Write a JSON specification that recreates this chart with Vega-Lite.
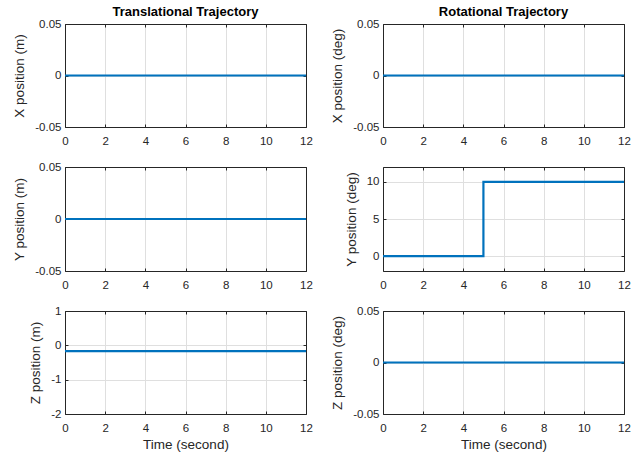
{
  "$schema": "https://vega.github.io/schema/vega-lite/v6.json",
  "background": "white",
  "padding": {"left": 12, "top": 6, "right": 18, "bottom": 5},
  "datasets": {
    "xm": [{"t": 0, "v": 0}, {"t": 12, "v": 0}],
    "xd": [{"t": 0, "v": 0}, {"t": 12, "v": 0}],
    "ym": [{"t": 0, "v": 0}, {"t": 12, "v": 0}],
    "yd": [{"t": 0, "v": 0}, {"t": 5, "v": 0}, {"t": 5, "v": 10}, {"t": 12, "v": 10}],
    "zm": [{"t": 0, "v": -0.17}, {"t": 12, "v": -0.17}],
    "zd": [{"t": 0, "v": 0}, {"t": 12, "v": 0}]
  },
  "config": {
    "font": "Liberation Sans",
    "view": {"stroke": null},
    "axis": {
      "domain": true,
      "domainColor": "#262626",
      "domainWidth": 1,
      "grid": true,
      "gridColor": "#dfdfdf",
      "gridWidth": 1,
      "ticks": false,
      "tickColor": "#262626",
      "tickSize": 3,
      "labelFlush": false,
      "labelFont": "Liberation Sans",
      "labelFontSize": 11.5,
      "labelColor": "#262626",
      "titleFont": "Liberation Sans",
      "titleFontSize": 13.5,
      "titleFontWeight": "normal",
      "titleColor": "#262626",
      "labelExpr": "replace(format(datum.value, '~r'), '−', '-')"
    },
    "axisX": {"labelPadding": 8, "titlePadding": 4},
    "axisY": {"labelPadding": 4, "titlePadding": 8},
    "title": {"fontSize": 13, "fontWeight": "bold", "color": "black", "font": "Liberation Sans", "offset": -1},
    "line": {"color": "#0072BD", "strokeWidth": 2.2}
  },
  "columns": 2,
  "bounds": "flush",
  "spacing": {"column": 77, "row": 40},
  "concat": [
    {
      "title": "Translational Trajectory",
      "width": 241, "height": 103,
      "data": {"name": "xm"},
      "layer": [
        {"mark": {"type": "line", "clip": true},
         "encoding": {
           "x": {"field": "t", "type": "quantitative", "scale": {"domain": [0, 12], "nice": false}, "axis": {"title": null, "values": [0, 2, 4, 6, 8, 10, 12]}},
           "y": {"field": "v", "type": "quantitative", "scale": {"domain": [-0.05, 0.05], "nice": false}, "axis": {"title": "X position (m)", "values": [-0.05, 0, 0.05]}}}},
        {"mark": {"type": "line", "opacity": 0},
         "encoding": {
           "x": {"field": "t", "type": "quantitative", "axis": {"orient": "top", "title": null, "labels": false, "grid": false, "values": [0, 2, 4, 6, 8, 10, 12]}},
           "y": {"field": "v", "type": "quantitative", "axis": {"orient": "right", "title": null, "labels": false, "grid": false, "values": [-0.05, 0, 0.05]}}}},
        {"mark": {"type": "line", "opacity": 0},
         "encoding": {
           "x": {"field": "t", "type": "quantitative", "axis": {"orient": "bottom", "offset": -3, "ticks": true, "domain": false, "title": null, "labels": false, "grid": false, "values": [0, 2, 4, 6, 8, 10, 12]}},
           "y": {"field": "v", "type": "quantitative", "axis": {"orient": "left", "offset": -3, "ticks": true, "domain": false, "title": null, "labels": false, "grid": false, "values": [-0.05, 0, 0.05]}}}},
        {"mark": {"type": "line", "opacity": 0},
         "encoding": {
           "x": {"field": "t", "type": "quantitative", "axis": {"orient": "top", "offset": -3, "ticks": true, "domain": false, "title": null, "labels": false, "grid": false, "values": [0, 2, 4, 6, 8, 10, 12]}},
           "y": {"field": "v", "type": "quantitative", "axis": {"orient": "right", "offset": -3, "ticks": true, "domain": false, "title": null, "labels": false, "grid": false, "values": [-0.05, 0, 0.05]}}}}
      ],
      "resolve": {"axis": {"x": "independent", "y": "independent"}}
    },
    {
      "title": "Rotational Trajectory",
      "width": 241, "height": 103,
      "data": {"name": "xd"},
      "layer": [
        {"mark": {"type": "line", "clip": true},
         "encoding": {
           "x": {"field": "t", "type": "quantitative", "scale": {"domain": [0, 12], "nice": false}, "axis": {"title": null, "values": [0, 2, 4, 6, 8, 10, 12]}},
           "y": {"field": "v", "type": "quantitative", "scale": {"domain": [-0.05, 0.05], "nice": false}, "axis": {"title": "X position (deg)", "values": [-0.05, 0, 0.05]}}}},
        {"mark": {"type": "line", "opacity": 0},
         "encoding": {
           "x": {"field": "t", "type": "quantitative", "axis": {"orient": "top", "title": null, "labels": false, "grid": false, "values": [0, 2, 4, 6, 8, 10, 12]}},
           "y": {"field": "v", "type": "quantitative", "axis": {"orient": "right", "title": null, "labels": false, "grid": false, "values": [-0.05, 0, 0.05]}}}},
        {"mark": {"type": "line", "opacity": 0},
         "encoding": {
           "x": {"field": "t", "type": "quantitative", "axis": {"orient": "bottom", "offset": -3, "ticks": true, "domain": false, "title": null, "labels": false, "grid": false, "values": [0, 2, 4, 6, 8, 10, 12]}},
           "y": {"field": "v", "type": "quantitative", "axis": {"orient": "left", "offset": -3, "ticks": true, "domain": false, "title": null, "labels": false, "grid": false, "values": [-0.05, 0, 0.05]}}}},
        {"mark": {"type": "line", "opacity": 0},
         "encoding": {
           "x": {"field": "t", "type": "quantitative", "axis": {"orient": "top", "offset": -3, "ticks": true, "domain": false, "title": null, "labels": false, "grid": false, "values": [0, 2, 4, 6, 8, 10, 12]}},
           "y": {"field": "v", "type": "quantitative", "axis": {"orient": "right", "offset": -3, "ticks": true, "domain": false, "title": null, "labels": false, "grid": false, "values": [-0.05, 0, 0.05]}}}}
      ],
      "resolve": {"axis": {"x": "independent", "y": "independent"}}
    },
    {
      "width": 241, "height": 104,
      "data": {"name": "ym"},
      "layer": [
        {"mark": {"type": "line", "clip": true},
         "encoding": {
           "x": {"field": "t", "type": "quantitative", "scale": {"domain": [0, 12], "nice": false}, "axis": {"title": null, "values": [0, 2, 4, 6, 8, 10, 12]}},
           "y": {"field": "v", "type": "quantitative", "scale": {"domain": [-0.05, 0.05], "nice": false}, "axis": {"title": "Y position (m)", "values": [-0.05, 0, 0.05]}}}},
        {"mark": {"type": "line", "opacity": 0},
         "encoding": {
           "x": {"field": "t", "type": "quantitative", "axis": {"orient": "top", "title": null, "labels": false, "grid": false, "values": [0, 2, 4, 6, 8, 10, 12]}},
           "y": {"field": "v", "type": "quantitative", "axis": {"orient": "right", "title": null, "labels": false, "grid": false, "values": [-0.05, 0, 0.05]}}}},
        {"mark": {"type": "line", "opacity": 0},
         "encoding": {
           "x": {"field": "t", "type": "quantitative", "axis": {"orient": "bottom", "offset": -3, "ticks": true, "domain": false, "title": null, "labels": false, "grid": false, "values": [0, 2, 4, 6, 8, 10, 12]}},
           "y": {"field": "v", "type": "quantitative", "axis": {"orient": "left", "offset": -3, "ticks": true, "domain": false, "title": null, "labels": false, "grid": false, "values": [-0.05, 0, 0.05]}}}},
        {"mark": {"type": "line", "opacity": 0},
         "encoding": {
           "x": {"field": "t", "type": "quantitative", "axis": {"orient": "top", "offset": -3, "ticks": true, "domain": false, "title": null, "labels": false, "grid": false, "values": [0, 2, 4, 6, 8, 10, 12]}},
           "y": {"field": "v", "type": "quantitative", "axis": {"orient": "right", "offset": -3, "ticks": true, "domain": false, "title": null, "labels": false, "grid": false, "values": [-0.05, 0, 0.05]}}}}
      ],
      "resolve": {"axis": {"x": "independent", "y": "independent"}}
    },
    {
      "width": 241, "height": 104,
      "data": {"name": "yd"},
      "layer": [
        {"mark": {"type": "line", "clip": true},
         "encoding": {
           "x": {"field": "t", "type": "quantitative", "scale": {"domain": [0, 12], "nice": false}, "axis": {"title": null, "values": [0, 2, 4, 6, 8, 10, 12]}},
           "y": {"field": "v", "type": "quantitative", "scale": {"domain": [-2, 12], "nice": false}, "axis": {"title": "Y position (deg)", "values": [0, 5, 10]}}}},
        {"mark": {"type": "line", "opacity": 0},
         "encoding": {
           "x": {"field": "t", "type": "quantitative", "axis": {"orient": "top", "title": null, "labels": false, "grid": false, "values": [0, 2, 4, 6, 8, 10, 12]}},
           "y": {"field": "v", "type": "quantitative", "axis": {"orient": "right", "title": null, "labels": false, "grid": false, "values": [0, 5, 10]}}}},
        {"mark": {"type": "line", "opacity": 0},
         "encoding": {
           "x": {"field": "t", "type": "quantitative", "axis": {"orient": "bottom", "offset": -3, "ticks": true, "domain": false, "title": null, "labels": false, "grid": false, "values": [0, 2, 4, 6, 8, 10, 12]}},
           "y": {"field": "v", "type": "quantitative", "axis": {"orient": "left", "offset": -3, "ticks": true, "domain": false, "title": null, "labels": false, "grid": false, "values": [0, 5, 10]}}}},
        {"mark": {"type": "line", "opacity": 0},
         "encoding": {
           "x": {"field": "t", "type": "quantitative", "axis": {"orient": "top", "offset": -3, "ticks": true, "domain": false, "title": null, "labels": false, "grid": false, "values": [0, 2, 4, 6, 8, 10, 12]}},
           "y": {"field": "v", "type": "quantitative", "axis": {"orient": "right", "offset": -3, "ticks": true, "domain": false, "title": null, "labels": false, "grid": false, "values": [0, 5, 10]}}}}
      ],
      "resolve": {"axis": {"x": "independent", "y": "independent"}}
    },
    {
      "width": 241, "height": 103,
      "data": {"name": "zm"},
      "layer": [
        {"mark": {"type": "line", "clip": true},
         "encoding": {
           "x": {"field": "t", "type": "quantitative", "scale": {"domain": [0, 12], "nice": false}, "axis": {"title": "Time (second)", "values": [0, 2, 4, 6, 8, 10, 12]}},
           "y": {"field": "v", "type": "quantitative", "scale": {"domain": [-2, 1], "nice": false}, "axis": {"title": "Z position (m)", "values": [-2, -1, 0, 1]}}}},
        {"mark": {"type": "line", "opacity": 0},
         "encoding": {
           "x": {"field": "t", "type": "quantitative", "axis": {"orient": "top", "title": null, "labels": false, "grid": false, "values": [0, 2, 4, 6, 8, 10, 12]}},
           "y": {"field": "v", "type": "quantitative", "axis": {"orient": "right", "title": null, "labels": false, "grid": false, "values": [-2, -1, 0, 1]}}}},
        {"mark": {"type": "line", "opacity": 0},
         "encoding": {
           "x": {"field": "t", "type": "quantitative", "axis": {"orient": "bottom", "offset": -3, "ticks": true, "domain": false, "title": null, "labels": false, "grid": false, "values": [0, 2, 4, 6, 8, 10, 12]}},
           "y": {"field": "v", "type": "quantitative", "axis": {"orient": "left", "offset": -3, "ticks": true, "domain": false, "title": null, "labels": false, "grid": false, "values": [-2, -1, 0, 1]}}}},
        {"mark": {"type": "line", "opacity": 0},
         "encoding": {
           "x": {"field": "t", "type": "quantitative", "axis": {"orient": "top", "offset": -3, "ticks": true, "domain": false, "title": null, "labels": false, "grid": false, "values": [0, 2, 4, 6, 8, 10, 12]}},
           "y": {"field": "v", "type": "quantitative", "axis": {"orient": "right", "offset": -3, "ticks": true, "domain": false, "title": null, "labels": false, "grid": false, "values": [-2, -1, 0, 1]}}}}
      ],
      "resolve": {"axis": {"x": "independent", "y": "independent"}}
    },
    {
      "width": 241, "height": 103,
      "data": {"name": "zd"},
      "layer": [
        {"mark": {"type": "line", "clip": true},
         "encoding": {
           "x": {"field": "t", "type": "quantitative", "scale": {"domain": [0, 12], "nice": false}, "axis": {"title": "Time (second)", "values": [0, 2, 4, 6, 8, 10, 12]}},
           "y": {"field": "v", "type": "quantitative", "scale": {"domain": [-0.05, 0.05], "nice": false}, "axis": {"title": "Z position (deg)", "values": [-0.05, 0, 0.05]}}}},
        {"mark": {"type": "line", "opacity": 0},
         "encoding": {
           "x": {"field": "t", "type": "quantitative", "axis": {"orient": "top", "title": null, "labels": false, "grid": false, "values": [0, 2, 4, 6, 8, 10, 12]}},
           "y": {"field": "v", "type": "quantitative", "axis": {"orient": "right", "title": null, "labels": false, "grid": false, "values": [-0.05, 0, 0.05]}}}},
        {"mark": {"type": "line", "opacity": 0},
         "encoding": {
           "x": {"field": "t", "type": "quantitative", "axis": {"orient": "bottom", "offset": -3, "ticks": true, "domain": false, "title": null, "labels": false, "grid": false, "values": [0, 2, 4, 6, 8, 10, 12]}},
           "y": {"field": "v", "type": "quantitative", "axis": {"orient": "left", "offset": -3, "ticks": true, "domain": false, "title": null, "labels": false, "grid": false, "values": [-0.05, 0, 0.05]}}}},
        {"mark": {"type": "line", "opacity": 0},
         "encoding": {
           "x": {"field": "t", "type": "quantitative", "axis": {"orient": "top", "offset": -3, "ticks": true, "domain": false, "title": null, "labels": false, "grid": false, "values": [0, 2, 4, 6, 8, 10, 12]}},
           "y": {"field": "v", "type": "quantitative", "axis": {"orient": "right", "offset": -3, "ticks": true, "domain": false, "title": null, "labels": false, "grid": false, "values": [-0.05, 0, 0.05]}}}}
      ],
      "resolve": {"axis": {"x": "independent", "y": "independent"}}
    }
  ]
}
